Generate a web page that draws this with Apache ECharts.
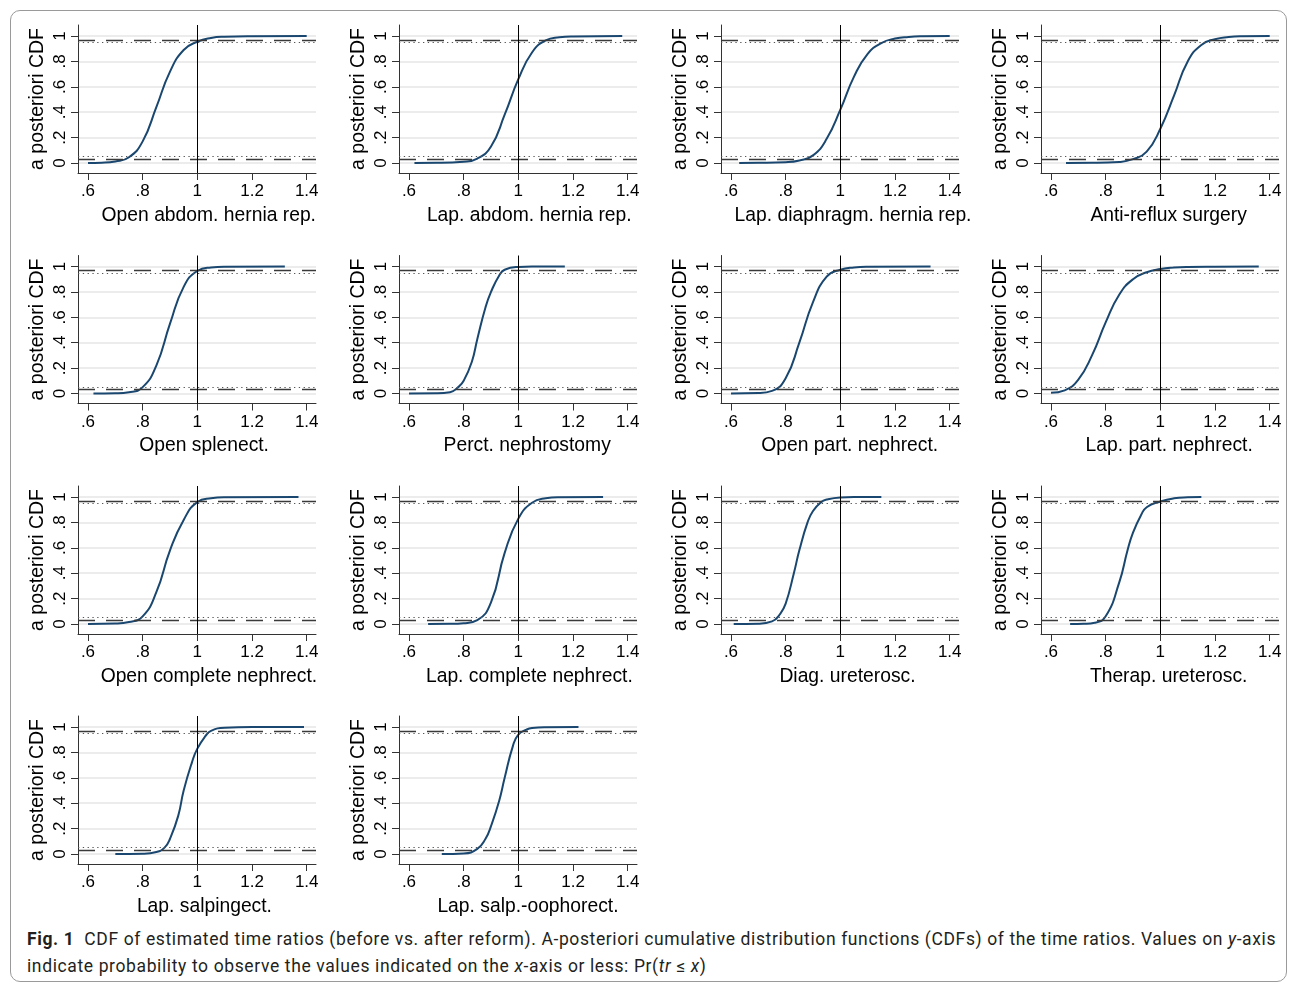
<!DOCTYPE html>
<html>
<head>
<meta charset="utf-8">
<title>CDF of estimated time ratios</title>
<script src="https://cdn.jsdelivr.net/npm/echarts@6/dist/echarts.min.js"></script>
<style>
  html, body { margin: 0; padding: 0; background: #fff; }
  #frame {
    position: absolute; left: 10px; top: 10px; width: 1277px; height: 972px;
    border: 1px solid #9a9a9a; border-radius: 10px; box-sizing: border-box;
  }
  #chart { position: absolute; left: 0; top: 0; width: 1295px; height: 925px; }
  #caption {
    position: absolute; left: 27px; top: 926px; width: 1262px;
    font-family: Roboto, "Noto Sans", sans-serif;
    font-size: 17.5px; line-height: 27px; color: #231f20; white-space: nowrap;
  }
  #caption b { color: #231f20; }
</style>
</head>
<body>
<div id="frame"></div>
<div id="chart"></div>
<div id="caption"><span id="line1"><b>Fig. 1</b>&nbsp; CDF of estimated time ratios (before vs. after reform). A-posteriori cumulative distribution functions (CDFs) of the time ratios. Values on <i>y</i>-axis</span><br>indicate probability to observe the values indicated on the <i>x</i>-axis or less: Pr(<i>tr</i> &le; <i>x</i>)</div>
<script>
// panel titles, in reading order
const titles = [
  'Open abdom. hernia rep.', 'Lap. abdom. hernia rep.', 'Lap. diaphragm. hernia rep.', 'Anti-reflux surgery',
  'Open splenect.', 'Perct. nephrostomy', 'Open part. nephrect.', 'Lap. part. nephrect.',
  'Open complete nephrect.', 'Lap. complete nephrect.', 'Diag. ureterosc.', 'Therap. ureterosc.',
  'Lap. salpingect.', 'Lap. salp.-oophorect.'
]

const xTicks = [0.6, 0.8, 1, 1.2, 1.4]
const yTicks = [0, 0.2, 0.4, 0.6, 0.8, 1]
const dashedLevels = [0.975, 0.025]
const dottedLevels = [0.95, 0.05]
const refX = 1

// curves: [time ratio, CDF]
const openAbdomHernia = [[0.6, 0], [0.65, 0.002], [0.7, 0.012], [0.75, 0.045], [0.8, 0.17], [0.85, 0.44], [0.9, 0.72], [0.95, 0.89], [1.0, 0.955], [1.05, 0.985], [1.1, 0.995], [1.2, 0.999], [1.4, 1]]
const lapAbdomHernia = [[0.62, 0], [0.7, 0.001], [0.8, 0.01], [0.85, 0.035], [0.9, 0.13], [0.95, 0.38], [1.0, 0.66], [1.05, 0.87], [1.1, 0.965], [1.15, 0.99], [1.2, 0.997], [1.38, 1]]
const lapDiaphragmHernia = [[0.63, 0], [0.7, 0.001], [0.8, 0.006], [0.85, 0.02], [0.9, 0.06], [0.95, 0.19], [1.0, 0.42], [1.05, 0.68], [1.1, 0.86], [1.15, 0.945], [1.2, 0.98], [1.25, 0.993], [1.3, 0.998], [1.4, 1]]
const antiReflux = [[0.655, 0], [0.75, 0.001], [0.85, 0.008], [0.9, 0.03], [0.95, 0.09], [1.0, 0.27], [1.05, 0.53], [1.1, 0.8], [1.15, 0.93], [1.2, 0.975], [1.25, 0.992], [1.3, 0.998], [1.4, 1]]
const openSplenect = [[0.62, 0], [0.7, 0.002], [0.75, 0.01], [0.8, 0.05], [0.85, 0.22], [0.9, 0.55], [0.95, 0.84], [1.0, 0.965], [1.05, 0.993], [1.1, 0.999], [1.32, 1]]
const perctNephrostomy = [[0.6, 0], [0.7, 0.001], [0.75, 0.01], [0.78, 0.05], [0.8, 0.1], [0.83, 0.25], [0.85, 0.43], [0.88, 0.68], [0.9, 0.8], [0.93, 0.93], [0.95, 0.975], [1.0, 0.997], [1.05, 1], [1.17, 1]]
const openPartNephrect = [[0.6, 0], [0.7, 0.003], [0.75, 0.02], [0.8, 0.12], [0.85, 0.4], [0.9, 0.72], [0.95, 0.92], [1.0, 0.975], [1.05, 0.993], [1.1, 0.998], [1.33, 1]]
const lapPartNephrect = [[0.6, 0.005], [0.65, 0.025], [0.7, 0.11], [0.75, 0.3], [0.8, 0.56], [0.85, 0.78], [0.9, 0.9], [0.95, 0.955], [1.0, 0.98], [1.05, 0.992], [1.1, 0.997], [1.2, 0.999], [1.36, 1]]
const openCompleteNephrect = [[0.6, 0], [0.7, 0.003], [0.75, 0.015], [0.8, 0.06], [0.85, 0.25], [0.9, 0.58], [0.95, 0.82], [1.0, 0.96], [1.05, 0.99], [1.1, 0.998], [1.37, 1]]
const lapCompleteNephrect = [[0.67, 0], [0.75, 0.001], [0.8, 0.006], [0.85, 0.03], [0.9, 0.17], [0.95, 0.56], [1.0, 0.83], [1.05, 0.955], [1.1, 0.99], [1.15, 0.998], [1.31, 1]]
const diagUreterosc = [[0.61, 0], [0.7, 0.002], [0.75, 0.02], [0.78, 0.08], [0.8, 0.16], [0.83, 0.4], [0.85, 0.58], [0.88, 0.8], [0.9, 0.89], [0.93, 0.96], [0.95, 0.98], [1.0, 0.997], [1.05, 1], [1.15, 1]]
const therapUreterosc = [[0.67, 0], [0.72, 0.002], [0.76, 0.01], [0.8, 0.06], [0.85, 0.33], [0.88, 0.58], [0.9, 0.72], [0.93, 0.86], [0.95, 0.92], [1.0, 0.965], [1.05, 0.99], [1.1, 0.998], [1.15, 1]]
const lapSalpingect = [[0.7, 0], [0.8, 0.002], [0.85, 0.015], [0.88, 0.05], [0.9, 0.12], [0.93, 0.3], [0.95, 0.5], [0.98, 0.72], [1.0, 0.83], [1.03, 0.93], [1.05, 0.97], [1.1, 0.995], [1.2, 1], [1.39, 1]]
const lapSalpOophorect = [[0.72, 0], [0.8, 0.004], [0.85, 0.04], [0.88, 0.12], [0.9, 0.22], [0.93, 0.42], [0.95, 0.6], [0.98, 0.85], [1.0, 0.94], [1.03, 0.98], [1.05, 0.993], [1.1, 0.999], [1.22, 1]]

const curves = [
  openAbdomHernia, lapAbdomHernia, lapDiaphragmHernia, antiReflux,
  openSplenect, perctNephrostomy, openPartNephrect, lapPartNephrect,
  openCompleteNephrect, lapCompleteNephrect, diagUreterosc, therapUreterosc,
  lapSalpingect, lapSalpOophorect
]

const colLeft = [78, 399, 721, 1041]
const rowTop = [25, 255.5, 486, 716]
const fontFamily = '"Liberation Sans", Arial, sans-serif'
const titleSize = 19.3
const noLeadZero = v => String(v).replace(/^0\./, '.')

// titles sit a little right of the plot centre in the original
const measure = document.createElement('canvas').getContext('2d')
measure.font = titleSize + 'px ' + fontFamily

const grids = []
const xAxes = []
const yAxes = []
const series = []

curves.forEach((data, i) => {
  const col = i % 4
  const row = Math.floor(i / 4)
  grids.push({ left: colLeft[col], top: rowTop[row], width: 238, height: 148 })

  const shift = 0.11 * measure.measureText(titles[i]).width
  xAxes.push({
    gridIndex: i,
    type: 'value',
    min: 0.5635,
    max: 1.434,
    name: titles[i],
    nameLocation: 'middle',
    nameGap: 33,
    nameTextStyle: { fontFamily, fontSize: titleSize, color: '#000', padding: [0, 0, 0, shift] },
    axisLine: { onZero: false, lineStyle: { color: '#333', width: 1 } },
    axisTick: { length: 7, customValues: xTicks, lineStyle: { color: '#333' } },
    axisLabel: { customValues: xTicks, margin: 10, fontFamily, fontSize: 17, color: '#000', formatter: noLeadZero },
    splitLine: { show: false }
  })

  yAxes.push({
    gridIndex: i,
    type: 'value',
    min: -0.079,
    max: 1.087,
    name: 'a posteriori CDF',
    nameLocation: 'middle',
    nameRotate: 90,
    nameGap: 30,
    nameTextStyle: { fontFamily, fontSize: 19.5, color: '#000' },
    axisLine: { show: true, onZero: false, lineStyle: { color: '#333', width: 1 } },
    axisTick: { show: true, length: 7, customValues: yTicks, lineStyle: { color: '#333' } },
    axisLabel: { customValues: yTicks, rotate: 90, margin: 9, fontFamily, fontSize: 17, color: '#000', formatter: noLeadZero },
    splitLine: { show: true, lineStyle: { color: '#e6e6e6', width: 1.5 } }
  })

  const refLines = []
  dashedLevels.forEach(v => refLines.push({ yAxis: v, lineStyle: { color: '#3a3a3a', type: [17, 11], width: 1.3 } }))
  dottedLevels.forEach(v => refLines.push({ yAxis: v, lineStyle: { color: '#555', type: [1.3, 3.5], width: 1.2 } }))
  refLines.push({ xAxis: refX, lineStyle: { color: '#000', type: 'solid', width: 1 } })

  series.push({
    type: 'line',
    xAxisIndex: i,
    yAxisIndex: i,
    data: data,
    smooth: 0.5,
    showSymbol: false,
    lineStyle: { color: '#1a476f', width: 2 },
    markLine: {
      silent: true,
      symbol: 'none',
      label: { show: false },
      data: refLines
    }
  })
})

const myChart = echarts.init(document.getElementById('chart'))
myChart.setOption({
  animation: false,
  grid: grids,
  xAxis: xAxes,
  yAxis: yAxes,
  series: series
})

// stretch the first caption line to the figure width, as in the typeset original
const line1 = document.getElementById('line1')
const gap = (1249 - line1.getBoundingClientRect().width) / line1.textContent.length
document.getElementById('caption').style.letterSpacing = gap.toFixed(3) + 'px'
</script>
</body>
</html>
